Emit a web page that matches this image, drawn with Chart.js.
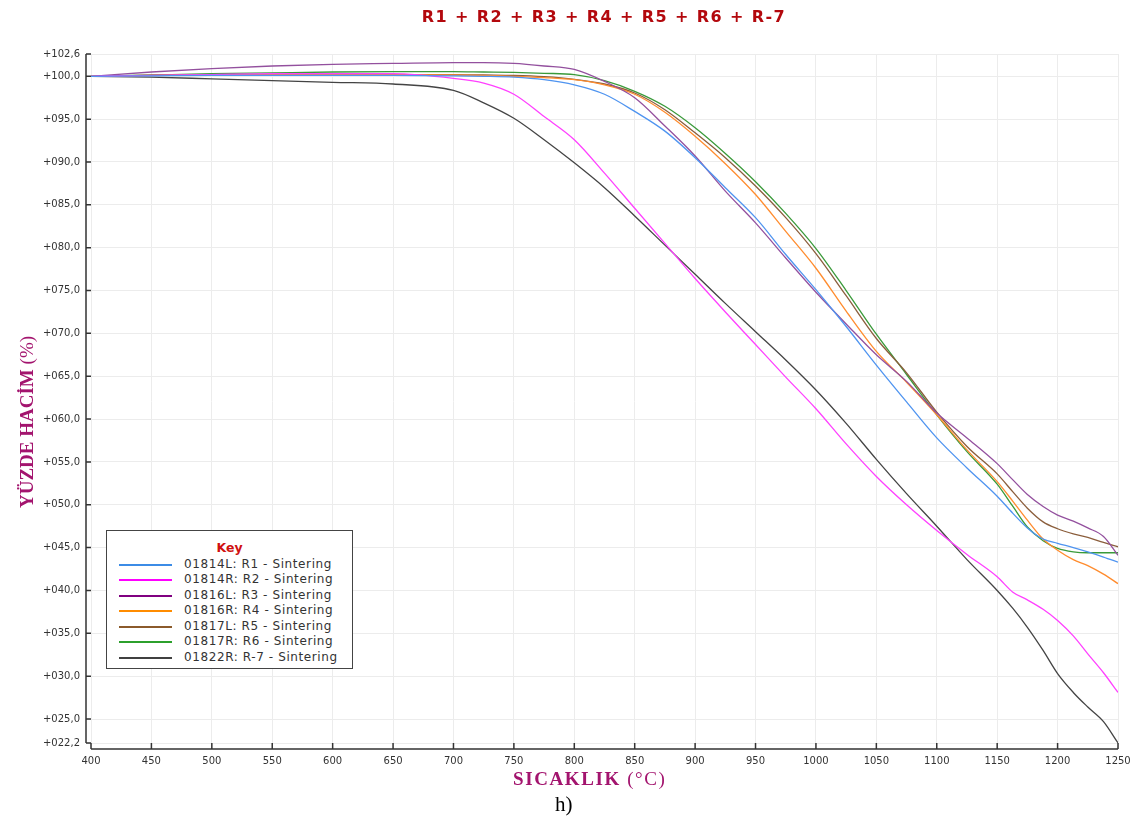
<!DOCTYPE html>
<html>
<head>
<meta charset="utf-8">
<script src="https://cdn.jsdelivr.net/npm/chart.js@4.4.0/dist/chart.umd.min.js"></script>
<style>
  html, body { margin:0; padding:0; background:#fff; }
  #wrap { position:relative; width:1146px; height:824px; overflow:hidden; }
  #chart { position:absolute; left:0; top:0; }
  .ttl { position:absolute; white-space:nowrap; }
  #mainTitle { left:604px; top:9px; transform:translateX(-50%); font:bold 16px/16px "DejaVu Sans", sans-serif; letter-spacing:1.4px; color:#b3080d; }
  #xTitle { left:513px; top:769px; font:19px/19px "Liberation Serif", serif; letter-spacing:1.6px; color:#a3146e; }
  #yTitle { left:17px; top:508px; transform-origin:0 0; transform:rotate(-90deg); font:19px/19px "Liberation Serif", serif; color:#a3146e; }
  #xTitle b, #yTitle b { font-weight:bold; }
  #figTag { left:555px; top:794px; font:21px/21px "Liberation Serif", serif; color:#000; }
  #key { position:absolute; left:106px; top:530px; width:245px; height:137px; border:1px solid #444; background:#fff; }
  #key .head { position:absolute; left:0; right:0; top:9px; text-align:center; font:bold 12.5px/16px "DejaVu Sans", sans-serif; color:#d01010; }
  #key .row { position:absolute; left:0; width:245px; height:15px; white-space:nowrap; font:12px/15px "DejaVu Sans", sans-serif; letter-spacing:0.6px; color:#333; }
  #key .row i { position:absolute; left:12px; top:7px; width:53px; height:2px; }
  #key .row span { position:absolute; left:77px; top:0; white-space:nowrap; }
</style>
</head>
<body>
<div id="wrap">
  <canvas id="chart" width="1146" height="824"></canvas>
  <div class="ttl" id="mainTitle">R1 + R2 + R3 + R4 + R5 + R6 + R-7</div>
  <div class="ttl" id="yTitle"><b>YÜZDE HACİM</b> (%)</div>
  <div class="ttl" id="xTitle"><b>SICAKLIK</b> (°C)</div>
  <div class="ttl" id="figTag">h)</div>
  <div id="key"><div class="head">Key</div></div>
</div>
<script>
/* data */
const temps = [400,450,500,550,600,650,700,725,750,775,800,825,850,875,900,925,950,975,1000,1025,1050,1075,1100,1125,1150,1163,1175,1188,1200,1213,1225,1238,1250];

const r1 = [100.0,100.05,100.1,100.1,100.1,100.1,100.05,100.0,99.9,99.6,99.0,97.9,95.9,93.6,90.5,87.0,83.5,79.2,75.1,70.8,66.3,62.0,57.8,54.3,51.0,49.0,47.3,46.0,45.5,45.0,44.5,43.9,43.3];
const r2 = [100.0,100.1,100.2,100.3,100.3,100.3,99.75,99.2,97.9,95.3,92.6,88.7,84.6,80.5,76.4,72.5,68.7,64.9,61.2,57.1,53.3,50.0,47.0,44.2,41.6,39.8,38.9,37.8,36.5,34.7,32.6,30.4,28.1];
const r3 = [100.0,100.5,100.9,101.2,101.4,101.5,101.6,101.6,101.5,101.2,100.8,99.4,97.5,94.2,90.7,86.6,82.9,78.8,74.8,71.1,67.5,64.4,60.7,57.8,54.8,52.9,51.2,49.8,48.8,48.1,47.3,46.3,44.1];
const r4 = [100.0,100.1,100.15,100.2,100.2,100.2,100.15,100.1,100.0,99.85,99.6,99.0,97.9,95.8,93.0,89.8,86.2,81.9,77.6,72.6,67.9,64.3,60.5,56.4,52.7,50.4,48.2,46.0,44.7,43.6,42.9,41.9,40.8];
const r5 = [100.0,100.1,100.15,100.2,100.2,100.2,100.2,100.15,100.1,99.95,99.65,99.1,98.05,96.1,93.4,90.5,87.2,83.5,79.3,74.4,69.4,65.4,60.8,56.8,53.6,51.5,49.6,48.0,47.2,46.6,46.2,45.6,45.1];
const r6 = [100.0,100.15,100.3,100.4,100.5,100.55,100.55,100.5,100.45,100.35,100.2,99.5,98.25,96.5,94.0,91.0,87.7,84.0,79.9,75.0,69.9,65.2,60.5,56.2,52.4,49.8,47.4,45.8,44.9,44.5,44.4,44.4,44.4];
const r7 = [100.0,99.9,99.7,99.5,99.3,99.1,98.35,96.9,95.1,92.6,89.9,87.0,83.7,80.3,76.9,73.5,70.2,66.9,63.4,59.5,55.3,51.3,47.5,43.6,40.0,37.9,35.7,33.0,30.3,28.1,26.4,24.7,22.2];

const seriesNames = ['01814L: R1 - Sintering','01814R: R2 - Sintering','01816L: R3 - Sintering','01816R: R4 - Sintering','01817L: R5 - Sintering','01817R: R6 - Sintering','01822R: R-7 - Sintering'];

const xTicks = [400,450,500,550,600,650,700,750,800,850,900,950,1000,1050,1100,1150,1200,1250];
const yTicks = [22.2,25,30,35,40,45,50,55,60,65,70,75,80,85,90,95,100,102.6];

const lineColors = ['#4f94f0','#ff40ff','#93509e','#ff8c2e','#8b5e3c','#3a9a3a','#444444'];
const legendColors = ['#3c8ce6','#ff00ff','#800080','#ff8c00','#8b5a2b','#2ca02c','#404040'];

/* helper */
function fmtY(v){ return '+' + v.toFixed(1).padStart(5,'0').replace('.', ','); }

/* axis line + inward ticks, detached from the plot like the original */
const axisFrame = {
  id:'axisFrame',
  afterDraw(chart){
    const {ctx, chartArea:a, scales:{x, y}} = chart;
    const px0 = x.getPixelForValue(xTicks[0]);
    const py0 = y.getPixelForValue(yTicks[0]);
    ctx.save();
    ctx.strokeStyle = '#333'; ctx.lineWidth = 1.5;
    ctx.beginPath();
    ctx.moveTo(a.left, y.getPixelForValue(yTicks[yTicks.length-1])); ctx.lineTo(a.left, py0);
    ctx.moveTo(px0, a.bottom); ctx.lineTo(a.right, a.bottom);
    yTicks.forEach(v=>{ const p = y.getPixelForValue(v); ctx.moveTo(a.left, p); ctx.lineTo(px0, p); });
    xTicks.forEach(v=>{ const p = x.getPixelForValue(v); ctx.moveTo(p, a.bottom); ctx.lineTo(p, py0); });
    ctx.stroke();
    ctx.restore();
  }
};

const allSeries = [r1, r2, r3, r4, r5, r6, r7];

new Chart(document.getElementById('chart'), {
  type:'line',
  data:{
    datasets: allSeries.map((vals, i)=>({
      label: seriesNames[i],
      data: temps.map((t, k)=>({x:t, y:vals[k]})),
      borderColor: lineColors[i],
      borderWidth: 1.3,
      pointRadius: 0,
      cubicInterpolationMode: 'monotone',
      fill: false
    }))
  },
  options:{
    responsive:false,
    animation:false,
    layout:{ padding:{ left:0, top:54, right:28, bottom:0 } },
    plugins:{ legend:{display:false}, title:{display:false}, tooltip:{enabled:false} },
    scales:{
      x:{
        type:'linear', min:395.86, max:1250,
        afterBuildTicks: s=>{ s.ticks = xTicks.map(v=>({value:v})); },
        afterFit: s=>{ s.height = 75; },
        grid:{ color:'#ececec', drawTicks:false },
        border:{ display:false },
        ticks:{ padding:6, color:'#333', autoSkip:false, maxRotation:0, font:{family:'DejaVu Sans', size:10}, callback: v=>String(v) }
      },
      y:{
        type:'linear', min:21.5, max:102.6,
        afterBuildTicks: s=>{ s.ticks = yTicks.map(v=>({value:v})); },
        afterFit: s=>{ s.width = 86; },
        grid:{ color:'#ececec', drawTicks:false },
        border:{ display:false },
        ticks:{ padding:6, color:'#333', autoSkip:false, font:{family:'DejaVu Sans', size:10}, callback: v=>fmtY(v) }
      }
    }
  },
  plugins:[axisFrame]
});

/* key box */
const key = document.getElementById('key');
seriesNames.forEach((name, i)=>{
  const row = document.createElement('div');
  row.className = 'row';
  row.style.top = (26 + i*15.45) + 'px';
  row.innerHTML = '<i style="background:' + legendColors[i] + '"></i><span>' + name + '</span>';
  key.appendChild(row);
});
</script>
</body>
</html>
